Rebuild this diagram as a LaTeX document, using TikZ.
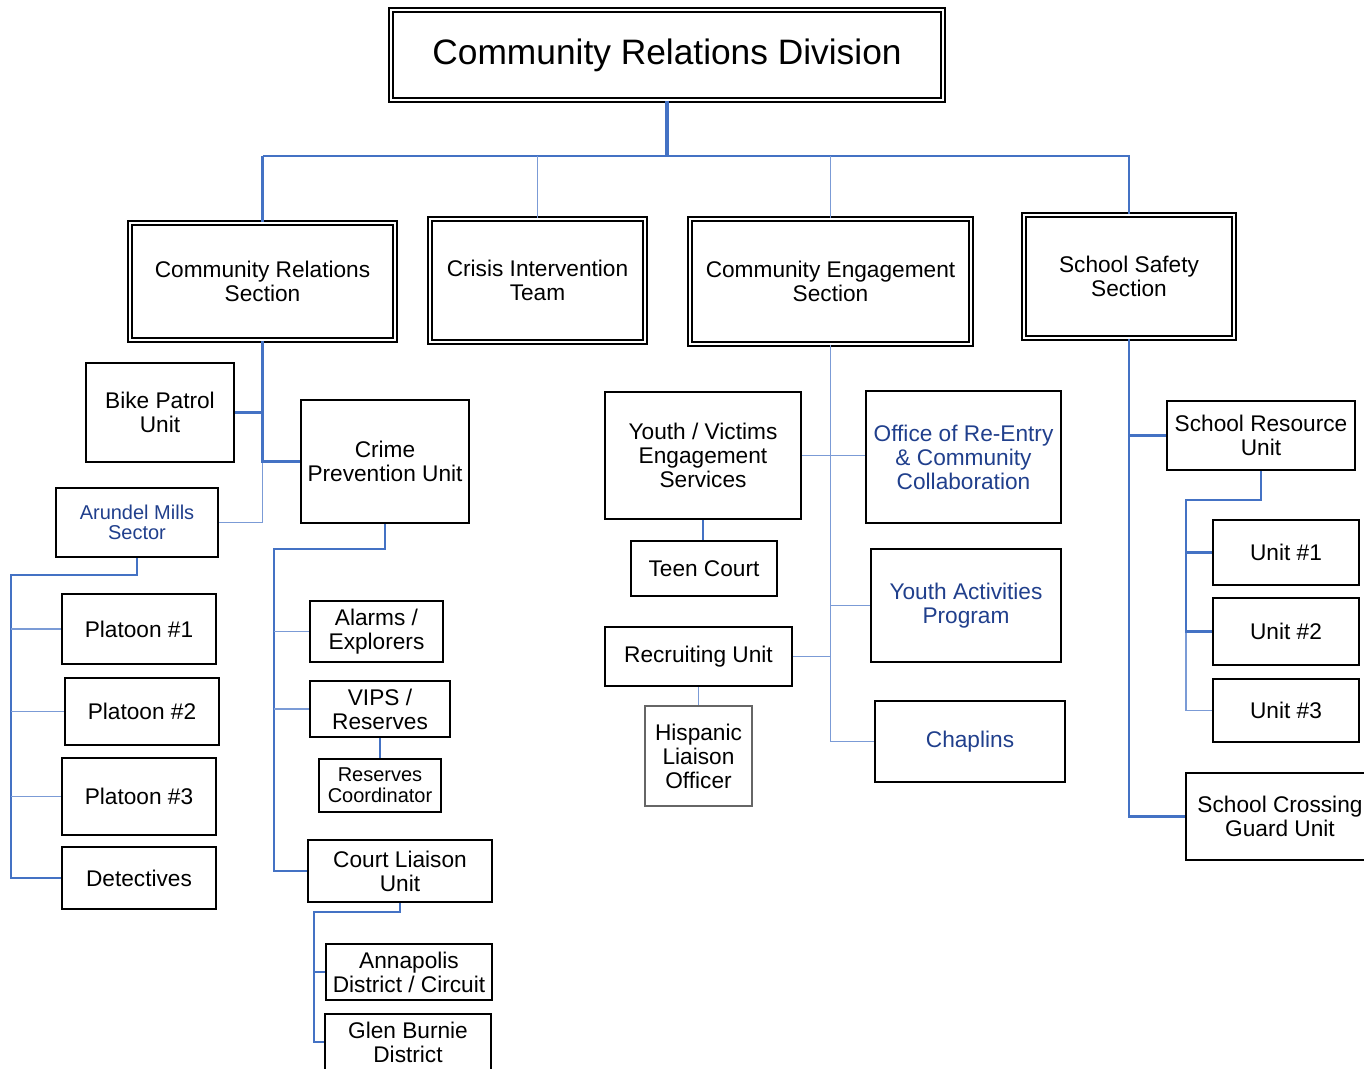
\documentclass[tikz,border=0pt]{standalone}
\usepackage{fontspec}
\setmainfont{Liberation Sans}
\definecolor{lnblue}{HTML}{4472C4}
\definecolor{lnthin}{HTML}{7B9BD6}
\definecolor{txblue}{HTML}{203F8C}
\newcommand{\obox}[7][bx]{\node[#1, minimum width={(#5-#3)*0.75pt}, minimum height={(#6-#4)*0.75pt}] (#2) at ({(#3+#5)/2},{(#4+#6)/2}) {#7};}
\begin{document}
\begin{tikzpicture}[x=0.75pt,y=-0.75pt,
 lbl/.style={font=\fontsize{17}{18}\selectfont, align=center},
 bx/.style={lbl, draw=black, line width=1.6pt, inner sep=0pt},
 dbx/.style={lbl, draw=black, line width=1.4pt, double=white, double distance=1.2pt, inner sep=0pt},
 graybx/.style={lbl, draw=black!60, line width=1.1pt, inner sep=0pt},
 small/.style={font=\fontsize{15}{15.5}\selectfont},
 bluetx/.style={text=txblue},
 thk/.style={draw=lnblue, line width=2.1pt},
 med/.style={draw=lnblue, line width=1.5pt},
 thn/.style={draw=lnthin, line width=0.9pt}]
\useasboundingbox (0,0) rectangle (1364,1069);
% top
\obox[dbx, font=\fontsize{26.5}{28}\selectfont]{top}{391}{10}{943}{100}{Community Relations Division}
% level 2
\obox[dbx]{crs}{130}{223}{395}{340}{Community Relations\\Section}
\obox[dbx]{cit}{430}{219}{645}{342}{Crisis Intervention\\Team}
\obox[dbx]{ces}{690}{219}{971}{344}{Community Engagement\\Section}
\obox[dbx]{sss}{1024}{215}{1234}{338}{School Safety\\Section}
% CRS children
\obox{bike}{86}{363}{234}{462}{Bike Patrol\\Unit}
\obox{crime}{301}{400}{469}{523}{Crime\\Prevention Unit}
\obox[bx, bluetx, small]{arundel}{56}{488}{218}{557}{Arundel Mills\\Sector}
\obox{p1}{62}{594}{216}{664}{Platoon \#1}
\obox{p2}{65}{678}{219}{745}{Platoon \#2}
\obox{p3}{62}{758}{216}{835}{Platoon \#3}
\obox{det}{62}{847}{216}{909}{Detectives}
\obox{alarms}{310}{601}{443}{662}{Alarms /\\Explorers}
\obox{vips}{310}{681}{450}{737}{VIPS /\\Reserves}
\obox[bx, small]{rescoord}{319}{759}{441}{812}{Reserves\\Coordinator}
\obox{court}{308}{840}{492}{902}{Court Liaison\\Unit}
\obox{annap}{326}{944}{492}{1000}{Annapolis\\District / Circuit}
\obox{glen}{325}{1014}{491}{1070}{Glen Burnie\\District}
% CES children
\obox{yves}{605}{392}{801}{519}{Youth / Victims\\Engagement\\Services}
\obox[bx, bluetx]{reentry}{866}{391}{1061}{523}{Office of Re-Entry\\\& Community\\Collaboration}
\obox{teen}{631}{541}{777}{596}{Teen Court}
\obox[bx, bluetx]{yap}{871}{549}{1061}{662}{Youth Activities\\Program}
\obox{recruit}{605}{627}{792}{686}{Recruiting Unit}
\obox[graybx]{hisp}{645}{706}{752}{806}{Hispanic\\Liaison\\Officer}
\obox[bx, bluetx]{chap}{875}{701}{1065}{782}{Chaplins}
% SSS children
\obox{sru}{1167}{401}{1355}{470}{School Resource\\Unit}
\obox{u1}{1213}{520}{1359}{585}{Unit \#1}
\obox{u2}{1213}{598}{1359}{665}{Unit \#2}
\obox{u3}{1213}{679}{1359}{742}{Unit \#3}
\obox{scg}{1186}{773}{1374}{860}{School Crossing\\Guard Unit}
% bus coordinates
\coordinate (busL) at (262,156);
\coordinate (busR) at (1130,156);
\coordinate (arbus) at (11,575);
\coordinate (cpbus) at (274,549);
\coordinate (clbus) at (314,912);
\coordinate (srbus) at (1186,500);
% top connectors
\draw[thk, line width=2.4pt] (top.south) -- (top.south |- busL);
\draw[med] (crs.north |- busL) -- (busR);
\draw[thk] (crs.north |- busL) -- (crs.north);
\draw[thn] (cit.north |- busL) -- (cit.north);
\draw[thn] (ces.north |- busL) -- (ces.north);
\draw[med, line width=1.8pt] (sss.north |- busL) -- (sss.north);
% CRS tree
\draw[thn] (arundel.east) -| (crs.south);
\draw[thk] (crs.south) |- (crime.west);
\draw[thk] (bike.east) -- (bike.east -| crs.south);
\draw[med] (arundel.south) |- (arbus) -- (arbus |- det.west) -- (det.west);
\draw[thn] (arbus |- p1.west) -- (p1.west);
\draw[thn] (arbus |- p2.west) -- (p2.west);
\draw[thn] (arbus |- p3.west) -- (p3.west);
% crime prevention tree
\draw[med] (crime.south) |- (cpbus) -- (cpbus |- court.west) -- (court.west);
\draw[thn] (cpbus |- alarms.west) -- (alarms.west);
\draw[thn] (cpbus |- vips.west) -- (vips.west);
\draw[med, line width=1.8pt] (crime.south) -- (crime.south |- cpbus);
\draw[med, line width=1.8pt] (vips.south) -- (rescoord.north);
% court tree
\draw[thk] (court.south) |- (clbus) -- (clbus |- glen.west) -- (glen.west);
\draw[thk] (clbus |- annap.west) -- (annap.west);
% CES tree
\draw[thn] (ces.south) -- (ces.south |- chap.west) -- (chap.west);
\draw[thn] (yves.east) -- (yves.east -| reentry.west);
\draw[thn] (ces.south |- yap.west) -- (yap.west);
\draw[thn] (recruit.east) -- (recruit.east -| ces.south);
\draw[thk] (yves.south) -- (yves.south |- teen.north);
\draw[thn] (recruit.south) -- (recruit.south |- hisp.north);
% SSS tree
\draw[thk] (sss.south) |- (scg.west);
\draw[thk] (sss.south |- sru.west) -- (sru.west);
\draw[thn] (srbus |- u2.west) -- (srbus |- u3.west) -- (u3.west);
\draw[thk] (sru.south) |- (srbus) -- (srbus |- u2.west) -- (u2.west);
\draw[thk] (srbus |- u1.west) -- (u1.west);
\end{tikzpicture}
\end{document}
